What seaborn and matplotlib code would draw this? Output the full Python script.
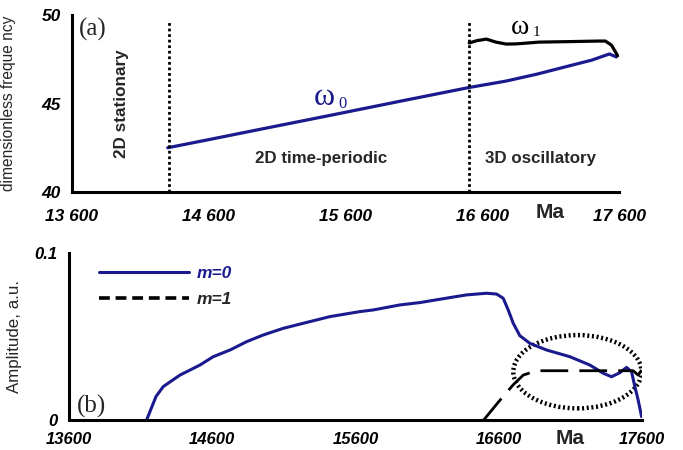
import numpy as np
import pandas as pd
import matplotlib
matplotlib.use("Agg")
import matplotlib.pyplot as plt
from matplotlib.patches import Ellipse
from matplotlib.lines import Line2D
from matplotlib.ticker import FuncFormatter
import seaborn as sns

# ---------------- data ----------------
ma_w0 = [14300, 14600, 15000, 15500, 16000, 16500, 16775, 17000, 17257, 17400, 17530, 17580]
w0 = [42.5, 42.96, 43.58, 44.35, 45.13, 45.9, 46.27, 46.66, 47.17, 47.45, 47.8, 47.63]

ma_w1 = [16505, 16560, 16630, 16700, 16775, 16850, 17015, 17250, 17453, 17500, 17545, 17575, 17590]
w1 = [48.42, 48.55, 48.64, 48.47, 48.36, 48.37, 48.47, 48.5, 48.53, 48.53, 48.3, 47.9, 47.7]

boundaries = [14308, 16505]

ma_m0 = [14142, 14207, 14258, 14375, 14514, 14607, 14724, 14840, 14956, 15096, 15235, 15421,
         15631, 15724, 15910, 16049, 16189, 16375, 16515, 16585, 16631, 16666, 16701, 16747,
         16817, 16934, 17096, 17236, 17329, 17387, 17445, 17492, 17527, 17550, 17573, 17597]
m0 = [0.0, 0.0140, 0.0200, 0.0269, 0.0329, 0.0379, 0.0419, 0.0469, 0.0509, 0.0549, 0.0579, 0.0619,
      0.0649, 0.0659, 0.0689, 0.0703, 0.0723, 0.0749, 0.0759, 0.0754, 0.0729, 0.0659, 0.0579, 0.0505,
      0.0459, 0.0419, 0.0379, 0.0329, 0.0280, 0.0259, 0.0283, 0.0315, 0.0289, 0.0200, 0.0120, 0.0020]

ma_m1 = [16495, 16600, 16700, 16771, 16864, 17200, 17538, 17573, 17597]
m1 = [0.0, 0.0110, 0.0210, 0.0269, 0.0295, 0.0295, 0.0295, 0.0269, 0.0299]

xticks = [13600, 14600, 15600, 16600, 17600]
yticks_a = [40, 45, 50]
yticks_b = [0, 0.1]

# ---------------- style ----------------
sns.set_style("white")
plt.rcParams['font.family'] = ['Liberation Sans', 'DejaVu Sans']

NAVY = '#1a1a8e'
SERIF = ['Liberation Serif', 'DejaVu Serif']

fig = plt.figure(figsize=(6.83, 4.5), dpi=100)
axA = fig.add_axes([0.1054, 0.5733, 0.8009, 0.3933])
axB = fig.add_axes([0.1010, 0.0667, 0.8390, 0.3711])

for ax in (axA, axB):
    for s in ('top', 'right'):
        ax.spines[s].set_visible(False)
    for s in ('left', 'bottom'):
        ax.spines[s].set_linewidth(2.2)
        ax.spines[s].set_color('black')
    ax.tick_params(direction='out', length=5, width=2, colors='black')
    ax.set_xlim(13600, 17600)
    ax.set_xticks(xticks)

# ---------------- panel (a) ----------------
sns.lineplot(x=ma_w0, y=w0, ax=axA, color=NAVY, lw=2.3)
sns.lineplot(x=ma_w1, y=w1, ax=axA, color='black', lw=2.3)
for b in boundaries:
    axA.plot([b, b], [40, 49.6], color='black', lw=2, linestyle=(0, (1, 1)))
axA.set_ylim(40, 50)
axA.set_yticks(yticks_a)
axA.xaxis.set_major_formatter(FuncFormatter(lambda v, p: f"{int(v)//1000} {int(v)%1000:03d}"))
axA.tick_params(axis='x', pad=7)
axA.tick_params(axis='y', pad=3)
for lab in axA.get_xticklabels() + axA.get_yticklabels():
    lab.set_fontweight('bold'); lab.set_fontstyle('italic'); lab.set_fontsize(12.5)

axA.set_ylabel("dimensionless freque ncy", fontsize=11.2)
axA.yaxis.set_label_coords(-0.103, 0.5)
axA.text(0.874, -0.113, "Ma", transform=axA.transAxes, fontsize=15, fontweight='bold',
         ha='center', va='center')
axA.text(0.038, 0.921, "(a)", transform=axA.transAxes, fontsize=18,
         family=SERIF, ha='center', va='center')
axA.text(13965, 44.97, "2D stationary", rotation=90, fontsize=12.3, fontweight='bold',
         ha='center', va='center')
axA.text(15425, 41.92, "2D time-periodic", fontsize=12.2, fontweight='bold', ha='center', va='center')
axA.text(17023, 41.92, "3D oscillatory", fontsize=12.2, fontweight='bold', ha='center', va='center')
axA.text(15447, 45.35, "ω", fontsize=23, family=SERIF, color=NAVY, ha='center', va='center')
axA.text(15575, 44.95, "0", fontsize=12, family=SERIF, color=NAVY, ha='center', va='center')
axA.text(16877, 49.3, "ω", fontsize=20, family=SERIF, color='black', ha='center', va='center')
axA.text(16995, 49.0, "1", fontsize=11, family=SERIF, color='black', ha='center', va='center')

# ---------------- panel (b) ----------------
sns.lineplot(x=ma_m0, y=m0, ax=axB, color=NAVY, lw=2.2)
sns.lineplot(x=ma_m1, y=m1, ax=axB, color='black', lw=2.0, linestyle=(0, (10, 4)))
axB.add_patch(Ellipse((17149, 0.0289), 895, 0.0439, fill=False, edgecolor='black',
                      lw=3.2, linestyle=(0, (0.45, 0.6))))
axB.set_ylim(0, 0.1)
axB.set_yticks(yticks_b)
axB.yaxis.set_major_formatter(FuncFormatter(lambda v, p: "0" if v == 0 else f"{v:g}"))
axB.tick_params(axis='x', pad=4)
for lab in axB.get_xticklabels() + axB.get_yticklabels():
    lab.set_fontweight('bold'); lab.set_fontstyle('italic'); lab.set_fontsize(12)

axB.set_ylabel("Amplitude, a.u.", fontsize=12.2)
axB.yaxis.set_label_coords(-0.082, 0.5)
axB.text(0.874, -0.108, "Ma", transform=axB.transAxes, fontsize=15, fontweight='bold',
         ha='center', va='center')
axB.text(0.040, 0.084, "(b)", transform=axB.transAxes, fontsize=18,
         family=SERIF, ha='center', va='center')

handles = [Line2D([], [], color=NAVY, lw=2.2),
           Line2D([], [], color='black', lw=2.6, linestyle=(0, (3, 1.6)))]
leg = axB.legend(handles, ["m=0", "m=1"], loc='upper left', bbox_to_anchor=(0.025, 1.015),
                 frameon=False, handlelength=5.2, handletextpad=0.45, labelspacing=0.6,
                 prop={'weight': 'bold', 'style': 'italic', 'size': 12.5})
leg.get_texts()[0].set_color(NAVY)

fig.savefig("out.png", dpi=100)
